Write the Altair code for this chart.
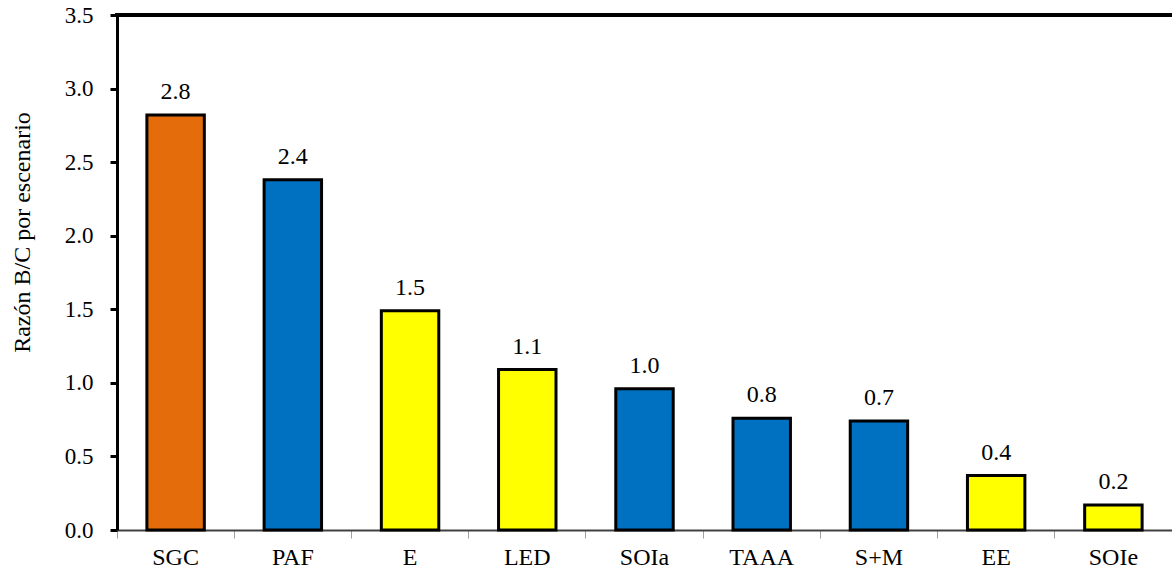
import altair as alt
import pandas as pd

categories = ["SGC", "PAF", "E", "LED", "SOIa", "TAAA", "S+M", "EE", "SOIe"]
values = [2.82, 2.38, 1.49, 1.09, 0.96, 0.76, 0.74, 0.37, 0.17]
colors = ["#E46C0A", "#0070C0", "#FFFF00", "#FFFF00", "#0070C0", "#0070C0", "#0070C0", "#FFFF00", "#FFFF00"]

df = pd.DataFrame({"cat": categories, "val": values})

W, H = 1055, 515
FONT = "Liberation Serif"

x_enc = alt.X(
    "cat:N",
    sort=categories,
    scale=alt.Scale(paddingInner=0, paddingOuter=0),
    axis=alt.Axis(
        title=None,
        labelAngle=0,
        labelFontSize=24,
        labelFont=FONT,
        labelColor="black",
        labelPadding=7,
        domainColor="#404040",
        domainWidth=2,
        tickColor="#A0A0A0",
        tickWidth=1,
        tickSize=8,
        bandPosition=0,
    ),
)

y_enc = alt.Y(
    "val:Q",
    scale=alt.Scale(domain=[0, 3.5], nice=False),
    axis=alt.Axis(
        title="Razón B/C por escenario",
        values=[0, 0.5, 1.0, 1.5, 2.0, 2.5, 3.0, 3.5],
        format=".1f",
        grid=False,
        labelFontSize=23,
        labelFont=FONT,
        labelColor="black",
        labelPadding=17,
        domainColor="black",
        domainWidth=3,
        tickColor="black",
        tickWidth=3,
        tickSize=7,
        titleFont=FONT,
        titleFontSize=24,
        titleFontWeight="normal",
        titleColor="black",
        titleAngle=-90,
        titleBaseline="middle",
        titleX=-95,
        titleY=217,
    ),
)

bars = alt.Chart(df).mark_bar(
    width=alt.RelativeBandSize(0.49), stroke="black", strokeWidth=3
).encode(
    x=x_enc,
    y=y_enc,
    color=alt.Color("cat:N", scale=alt.Scale(domain=categories, range=colors), legend=None),
)

labels = alt.Chart(df).mark_text(
    font=FONT, fontSize=24, color="black", baseline="alphabetic", dy=-16
).encode(
    x=alt.X("cat:N", sort=categories),
    y="val:Q",
    text=alt.Text("val:Q", format=".1f"),
)

top_line = alt.Chart(df).mark_rule(color="black", strokeWidth=3).encode(
    x=alt.value(-1.5), x2=alt.value(W), y=alt.value(0)
)

chart = alt.layer(bars, labels, top_line).properties(
    width=W,
    height=H,
    autosize=alt.AutoSizeParams(type="none"),
    padding={"left": 117, "top": 15, "right": 0, "bottom": 43},
).configure_view(stroke=None).configure(background="white")

chart.save("out.html", embed_options={"renderer": "svg", "actions": False})
